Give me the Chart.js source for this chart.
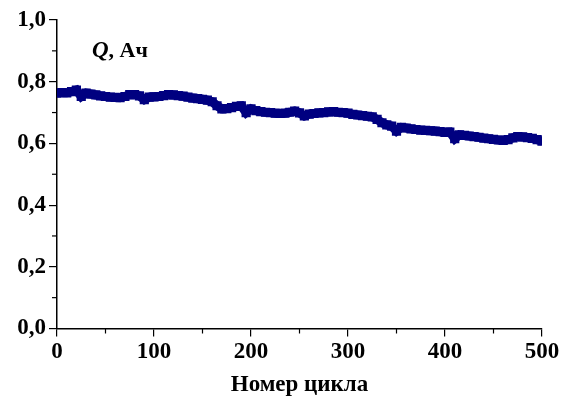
<!DOCTYPE html>
<html>
<head>
<meta charset="utf-8">
<script src="https://cdn.jsdelivr.net/npm/chart.js@4"></script>
<style>
    body { margin: 0; background: #fff; }
    #chart { display: block; }
</style>
</head>
<body>
<canvas id="chart" width="563" height="405"></canvas>
<script>
// Capacity vs cycle number, every 5 cycles
const cycles = [];
for (let c = 0; c <= 500; c += 5) cycles.push(c);

const capacity = [
    0.763, 0.765, 0.764, 0.768, 0.773, 0.752, 0.763, 0.760, 0.757, 0.754,
    0.752, 0.750, 0.749, 0.748, 0.752, 0.758, 0.758, 0.754, 0.742, 0.750,
    0.751, 0.752, 0.755, 0.758, 0.757, 0.755, 0.753, 0.750, 0.747, 0.745,
    0.743, 0.740, 0.735, 0.722, 0.712, 0.713, 0.716, 0.720, 0.722, 0.700,
    0.712, 0.706, 0.703, 0.701, 0.700, 0.698, 0.697, 0.698, 0.701, 0.705,
    0.699, 0.689, 0.695, 0.697, 0.699, 0.700, 0.702, 0.703, 0.701, 0.700,
    0.698, 0.694, 0.692, 0.690, 0.688, 0.686, 0.678, 0.667, 0.660, 0.656,
    0.640, 0.652, 0.650, 0.647, 0.645, 0.643, 0.642, 0.641, 0.640, 0.638,
    0.636, 0.637, 0.615, 0.628, 0.626, 0.624, 0.622, 0.620, 0.617, 0.615,
    0.613, 0.611, 0.610, 0.612, 0.618, 0.622, 0.621, 0.619, 0.616, 0.612,
    0.607
];

const xMinorTicks = [50, 150, 250, 350, 450];
const yMinorTicks = [0.1, 0.3, 0.5, 0.7, 0.9];

const navy = '#000080';
const serif = "'Liberation Serif', 'Times New Roman', serif";

// short minor ticks on both axes and the "Q, Ач" label
const extras = {
    id: 'extras',
    afterDraw(chart) {
        const ctx = chart.ctx;
        const xs = chart.scales.x, ys = chart.scales.y;
        const area = chart.chartArea;
        ctx.save();
        ctx.strokeStyle = '#000';
        ctx.lineWidth = 1.2;
        xMinorTicks.forEach(v => {
            const px = xs.getPixelForValue(v);
            ctx.beginPath();
            ctx.moveTo(px, area.bottom);
            ctx.lineTo(px, area.bottom + 5);
            ctx.stroke();
        });
        yMinorTicks.forEach(v => {
            const py = ys.getPixelForValue(v);
            ctx.beginPath();
            ctx.moveTo(area.left, py);
            ctx.lineTo(area.left - 5, py);
            ctx.stroke();
        });

        const lx = xs.getPixelForValue(36);
        const ly = ys.getPixelForValue(0.88);
        ctx.fillStyle = '#000';
        ctx.textBaseline = 'alphabetic';
        ctx.font = 'italic bold 23px ' + serif;
        ctx.fillText('Q', lx, ly);
        const w = ctx.measureText('Q').width;
        ctx.font = 'bold 22px ' + serif;
        ctx.fillText(', Ач', lx + w, ly);
        ctx.restore();
    }
};

new Chart(document.getElementById('chart'), {
    type: 'scatter',
    data: {
        datasets: [{
            data: cycles.map((c, i) => ({ x: c, y: capacity[i] })),
            showLine: true,
            borderColor: navy,
            backgroundColor: navy,
            borderWidth: 9,
            pointStyle: 'rect',
            pointRadius: 6.5,
            pointBorderWidth: 0
        }]
    },
    options: {
        responsive: false,
        animation: false,
        layout: { padding: { top: 20, right: 21, left: 0, bottom: 0 } },
        plugins: { legend: { display: false }, tooltip: { enabled: false } },
        scales: {
            x: {
                type: 'linear',
                min: 0,
                max: 500,
                afterFit: scale => { scale.height = 76.5; },
                ticks: {
                    stepSize: 100,
                    color: '#000',
                    padding: 2,
                    font: { family: serif, size: 23, weight: 'bold' }
                },
                grid: { drawOnChartArea: false, drawTicks: true, tickLength: 8, color: '#000', lineWidth: 1.2 },
                border: { display: true, color: '#000', width: 1.5 },
                title: {
                    display: true,
                    text: 'Номер цикла',
                    color: '#000',
                    padding: { top: 8, bottom: 6 },
                    font: { family: serif, size: 23, weight: 'bold' }
                }
            },
            y: {
                min: 0,
                max: 1,
                afterFit: scale => { scale.width = 57; },
                ticks: {
                    stepSize: 0.2,
                    color: '#000',
                    padding: 3,
                    font: { family: serif, size: 23, weight: 'bold' },
                    callback: v => v.toFixed(1).replace('.', ',')
                },
                grid: { drawOnChartArea: false, drawTicks: true, tickLength: 8, color: '#000', lineWidth: 1.2 },
                border: { display: true, color: '#000', width: 1.5 }
            }
        }
    },
    plugins: [extras]
});
</script>
</body>
</html>
